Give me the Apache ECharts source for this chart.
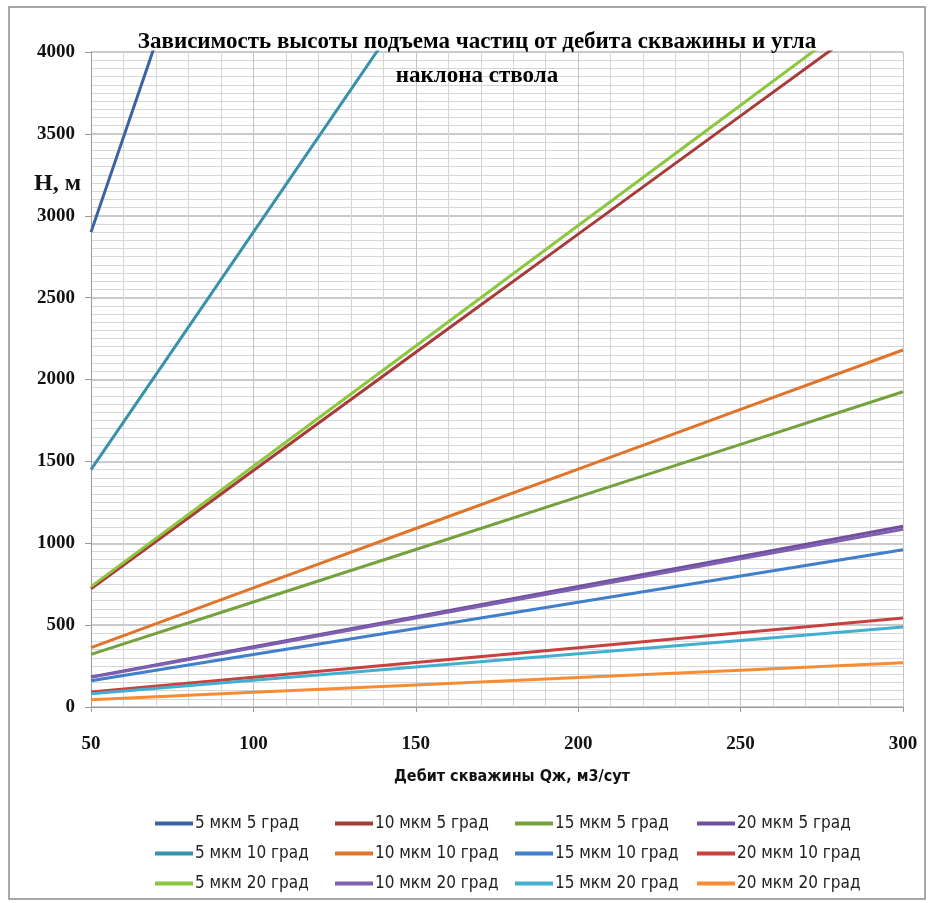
<!DOCTYPE html>
<html>
<head>
<meta charset="utf-8">
<script src="https://cdn.jsdelivr.net/npm/echarts@6/dist/echarts.min.js"></script>
<style>
  html, body { margin: 0; padding: 0; background: #fff; }
  #chart { width: 929px; height: 903px; }
</style>
</head>
<body>
<div id="chart"></div>
<script>
// Дебит скважины, м3/сут
const flowRates = [50, 100, 150, 200, 250, 300];

// Высота подъема H, м — по размеру частиц (мкм) и углу наклона ствола (град)
const h5mkm5 = [2900, 5800, 8700, 11600, 14500, 17400];
const h10mkm5 = [722, 1444, 2166, 2888, 3610, 4332];
const h15mkm5 = [321, 641, 962, 1283, 1604, 1925];
const h20mkm5 = [184, 368, 552, 736, 920, 1104];
const h5mkm10 = [1450, 2900, 4350, 5800, 7250, 8700];
const h10mkm10 = [363, 727, 1090, 1453, 1817, 2180];
const h15mkm10 = [160, 320, 480, 640, 800, 960];
const h20mkm10 = [91, 181, 272, 362, 453, 543];
const h5mkm20 = [735, 1470, 2205, 2940, 3675, 4410];
const h10mkm20 = [181, 362, 543, 724, 905, 1086];
const h15mkm20 = [81, 163, 244, 325, 406, 488];
const h20mkm20 = [45, 90, 135, 180, 225, 270];

const seriesNames = [
  '5 мкм 5 град', '10 мкм 5 град', '15 мкм 5 град', '20 мкм 5 град',
  '5 мкм 10 град', '10 мкм 10 град', '15 мкм 10 град', '20 мкм 10 град',
  '5 мкм 20 град', '10 мкм 20 град', '15 мкм 20 град', '20 мкм 20 град'
];
const seriesValues = [
  h5mkm5, h10mkm5, h15mkm5, h20mkm5,
  h5mkm10, h10mkm10, h15mkm10, h20mkm10,
  h5mkm20, h10mkm20, h15mkm20, h20mkm20
];
const seriesColors = [
  '#3b62a3', '#a83b39', '#76a13f', '#6f4f9e',
  '#3892ab', '#e0742a', '#3f7fcc', '#c8413f',
  '#8dc63f', '#7f5fb0', '#42afd0', '#f98b30'
];

const serif = "'Liberation Serif', 'Times New Roman', serif";
const narrow = "'Liberation Sans Narrow', 'DejaVu Sans Condensed', 'Open Sans', sans-serif";

const chart = echarts.init(document.getElementById('chart'));

const series = seriesNames.map((name, i) => ({
  name: name,
  type: 'line',
  data: flowRates.map((q, j) => [q, seriesValues[i][j]]),
  showSymbol: false,
  symbol: 'none',
  clip: true,
  z: 3 + i,
  lineStyle: { width: 3, color: seriesColors[i] },
  itemStyle: { color: seriesColors[i] }
}));

// Legend laid out as four columns of three entries
const legendColumns = [0, 1, 2, 3].map(c => [c, c + 4, c + 8].map(k => seriesNames[k]));
const legendLefts = [155, 335, 515, 697];
const legends = legendColumns.map((names, c) => ({
  data: names,
  orient: 'vertical',
  left: legendLefts[c],
  top: 814,
  padding: 0,
  itemGap: 11,
  itemWidth: 38,
  itemHeight: 4,
  icon: 'rect',
  selectedMode: false,
  textStyle: {
    fontFamily: narrow, fontSize: 17, lineHeight: 19, color: '#222',
    padding: [0, 0, 0, -3]
  }
}));

chart.setOption({
  animation: false,
  backgroundColor: '#ffffff',
  title: {
    text: 'Зависимость высоты подъема частиц от дебита скважины и угла\nнаклона ствола',
    left: 472,
    top: 20,
    textAlign: 'center',
    textStyle: {
      fontFamily: serif,
      fontWeight: 'bold',
      fontSize: 23,
      lineHeight: 34,
      color: '#000'
    }
  },
  legend: legends,
  grid: { left: 91, right: 26, top: 52, bottom: 196, containLabel: false },
  xAxis: {
    type: 'value',
    min: 50,
    max: 300,
    interval: 50,
    name: 'Дебит скважины Qж, м3/сут',
    nameLocation: 'middle',
    nameGap: 62,
    nameTextStyle: { fontFamily: narrow, fontWeight: 'bold', fontSize: 16, color: '#111', padding: [0, 0, 0, 30] },
    axisLine: { lineStyle: { color: '#9a9a9a', width: 1 } },
    axisTick: { show: true, length: 5, lineStyle: { color: '#9a9a9a' } },
    axisLabel: { margin: 28, fontFamily: serif, fontWeight: 'bold', fontSize: 19, color: '#111' },
    splitLine: { show: true, lineStyle: { color: '#c4c4c4', width: 1 } },
    minorTick: { show: false, splitNumber: 5 },
    minorSplitLine: { show: true, lineStyle: { color: '#d6d6d6', width: 1 } }
  },
  yAxis: {
    type: 'value',
    min: 0,
    max: 4000,
    interval: 500,
    axisLine: { show: true, lineStyle: { color: '#9a9a9a', width: 1 } },
    axisTick: { show: true, length: 6, lineStyle: { color: '#9a9a9a' } },
    axisLabel: {
      margin: 16, fontFamily: serif, fontWeight: 'bold', fontSize: 19, color: '#111',
      formatter: v => String(v)
    },
    splitLine: { show: true, lineStyle: { color: '#b8b8b8', width: 1.5 } },
    minorTick: { show: false, splitNumber: 10 },
    minorSplitLine: { show: true, lineStyle: { color: '#d6d6d6', width: 1 } }
  },
  graphic: [
    {
      type: 'rect',
      shape: { x: 9, y: 7, width: 916, height: 892 },
      style: { fill: 'none', stroke: '#8a8a8a', lineWidth: 1.5 },
      silent: true,
      z: -10
    },
    {
      type: 'text',
      left: 34,
      top: 172,
      style: {
        text: 'Н, м',
        fontFamily: serif,
        fontWeight: 'bold',
        fontSize: 24,
        fill: '#111'
      }
    }
  ],
  series: series
});
</script>
</body>
</html>
